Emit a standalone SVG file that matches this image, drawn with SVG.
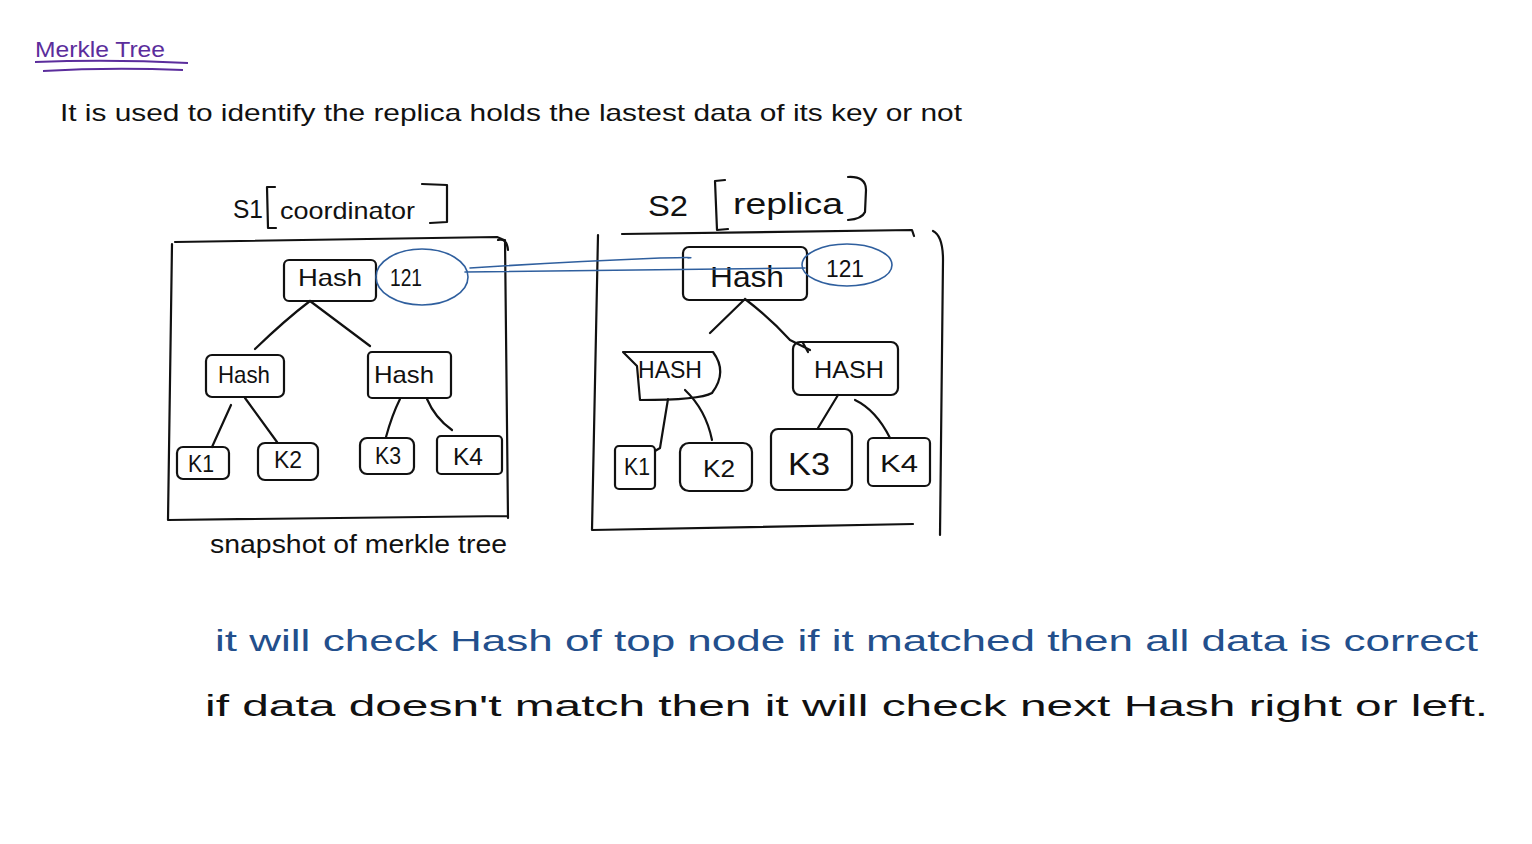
<svg xmlns="http://www.w3.org/2000/svg" width="1532" height="844" viewBox="0 0 1532 844">
<style>
text{font-family:"Liberation Sans",Arial,sans-serif;fill:#111}
.ink{fill:none;stroke:#111;stroke-width:2.2;stroke-linecap:round;stroke-linejoin:round}
.blue{fill:none;stroke:#2f5f9e;stroke-width:1.6;stroke-linecap:round}
.node{font-size:24px}
.bt{fill:#234f8c}
</style>
<rect width="1532" height="844" fill="#fff"/>
<g id="title">
<text x="35" y="57" font-size="22" fill="#5b2d9c" style="fill:#5b2d9c" textLength="130" lengthAdjust="spacingAndGlyphs">Merkle Tree</text>
<path d="M35 62 Q110 59 188 63" fill="none" stroke="#5b2d9c" stroke-width="2"/>
<path d="M43 71 Q110 67 183 70" fill="none" stroke="#5b2d9c" stroke-width="2"/>
</g>
<g id="intro">
<text x="60" y="121" font-size="24" textLength="902" lengthAdjust="spacingAndGlyphs">It is used to identify the replica holds the lastest data of its key or not</text>
</g>
<g id="s1-label">
<text x="233" y="218" font-size="26" textLength="30" lengthAdjust="spacingAndGlyphs">S1</text>
<path class="ink" d="M275 187 L267 187 L268 228 L276 228"/>
<text x="280" y="219" font-size="24" textLength="135" lengthAdjust="spacingAndGlyphs">coordinator</text>
<path class="ink" d="M422 184 L447 185 L447 222 L430 223"/>
</g>
<g id="s1-box">
<path class="ink" d="M175 242 L497 237 L504 240 M172 244 L168 520 L508 516 M505 240 L508 518 M498 240 Q507 238 508 250"/>
</g>
<g id="s1-root">
<rect class="ink" x="284" y="260" width="92" height="41" rx="5"/>
<text class="node" x="298" y="286" textLength="64" lengthAdjust="spacingAndGlyphs">Hash</text>
</g>
<g id="s1-root-val">
<ellipse class="blue" cx="422" cy="277" rx="46" ry="28"/>
<text class="node" x="390" y="286" textLength="32" lengthAdjust="spacingAndGlyphs">121</text>
</g>
<g id="s1-hash-l">
<rect class="ink" x="206" y="355" width="78" height="42" rx="6"/>
<text class="node" x="218" y="383" textLength="52" lengthAdjust="spacingAndGlyphs">Hash</text>
</g>
<g id="s1-hash-r">
<rect class="ink" x="368" y="352" width="83" height="46" rx="4"/>
<text class="node" x="374" y="383" textLength="60" lengthAdjust="spacingAndGlyphs">Hash</text>
</g>
<g id="s1-k1"><rect class="ink" x="177" y="447" width="52" height="32" rx="6"/><text class="node" x="188" y="472" textLength="26" lengthAdjust="spacingAndGlyphs">K1</text></g>
<g id="s1-k2"><rect class="ink" x="258" y="443" width="60" height="37" rx="7"/><text class="node" x="274" y="468" textLength="28" lengthAdjust="spacingAndGlyphs">K2</text></g>
<g id="s1-k3"><rect class="ink" x="360" y="438" width="54" height="36" rx="7"/><text class="node" x="375" y="464" textLength="26" lengthAdjust="spacingAndGlyphs">K3</text></g>
<g id="s1-k4"><rect class="ink" x="437" y="436" width="65" height="38" rx="4"/><text class="node" x="453" y="465" textLength="30" lengthAdjust="spacingAndGlyphs">K4</text></g>
<g id="s1-caption">
<text x="210" y="553" font-size="26" textLength="297" lengthAdjust="spacingAndGlyphs">snapshot of merkle tree</text>
</g>
<g id="s2-label">
<text x="648" y="216" font-size="30" textLength="40" lengthAdjust="spacingAndGlyphs">S2</text>
<path class="ink" d="M725 180 L715 181 L717 230 L728 229"/>
<text x="733" y="214" font-size="30" textLength="110" lengthAdjust="spacingAndGlyphs">replica</text>
<path class="ink" d="M848 177 Q866 176 866 190 L865 212 Q862 219 848 220"/>
</g>
<g id="s2-box">
<path class="ink" d="M622 234 L912 230 L914 236 M598 235 L592 530 L913 524 M933 231 Q943 236 943 260 L940 535"/>
</g>
<g id="s2-root">
<rect class="ink" x="683" y="247" width="124" height="53" rx="6"/>
<text class="node" x="710" y="287" font-size="30" style="font-size:30px" textLength="74" lengthAdjust="spacingAndGlyphs">Hash</text>
</g>
<g id="s2-root-val">
<ellipse class="blue" cx="847" cy="265" rx="45" ry="21"/>
<text class="node" x="826" y="277" textLength="38" lengthAdjust="spacingAndGlyphs">121</text>
</g>
<g id="s2-hash-l">
<path class="ink" d="M623 352 L713 352 Q728 372 712 393 Q700 400 640 400 L637 366 Z"/>
<text class="node" x="638" y="378" textLength="64" lengthAdjust="spacingAndGlyphs">HASH</text>
</g>
<g id="s2-hash-r">
<rect class="ink" x="793" y="342" width="105" height="53" rx="7"/>
<text class="node" x="814" y="378" textLength="70" lengthAdjust="spacingAndGlyphs">HASH</text>
</g>
<g id="s2-k1"><rect class="ink" x="615" y="446" width="40" height="43" rx="4"/><text class="node" x="624" y="475" textLength="26" lengthAdjust="spacingAndGlyphs">K1</text></g>
<g id="s2-k2"><rect class="ink" x="680" y="443" width="72" height="48" rx="9"/><text class="node" x="703" y="477" textLength="32" lengthAdjust="spacingAndGlyphs">K2</text></g>
<g id="s2-k3"><rect class="ink" x="771" y="429" width="81" height="61" rx="7"/><text class="node" x="788" y="475" font-size="32" style="font-size:32px" textLength="42" lengthAdjust="spacingAndGlyphs">K3</text></g>
<g id="s2-k4"><rect class="ink" x="868" y="438" width="62" height="48" rx="5"/><text class="node" x="880" y="472" textLength="38" lengthAdjust="spacingAndGlyphs">K4</text></g>
<g id="connectors">
<path class="ink" d="M310 301 Q285 320 255 349 M310 301 L370 346"/>
<path class="ink" d="M231 405 L212 447 M245 398 L277 442"/>
<path class="ink" d="M400 399 Q392 415 386 437 M427 399 Q435 418 452 430"/>
<path class="ink" d="M745 299 L710 333 M745 299 Q770 318 790 340 L810 350 M803 343 L808 352"/>
<path class="ink" d="M668 399 L660 448 L655 451 M685 390 Q706 410 712 440"/>
<path class="ink" d="M838 395 L818 428 M855 400 Q876 410 890 438"/>
<path class="blue" d="M470 268 Q560 262 660 258 Q700 257 688 258"/>
<path class="blue" d="M465 272 L805 268"/>
</g>
<g id="notes">
<text class="bt" x="215" y="651" font-size="30" style="fill:#234f8c" textLength="1263" lengthAdjust="spacingAndGlyphs">it will check Hash of top node if it matched then all data is correct</text>
<text x="205" y="716" font-size="30" textLength="1283" lengthAdjust="spacingAndGlyphs">if data doesn't match then it will check next Hash right or left.</text>
</g>
</svg>
